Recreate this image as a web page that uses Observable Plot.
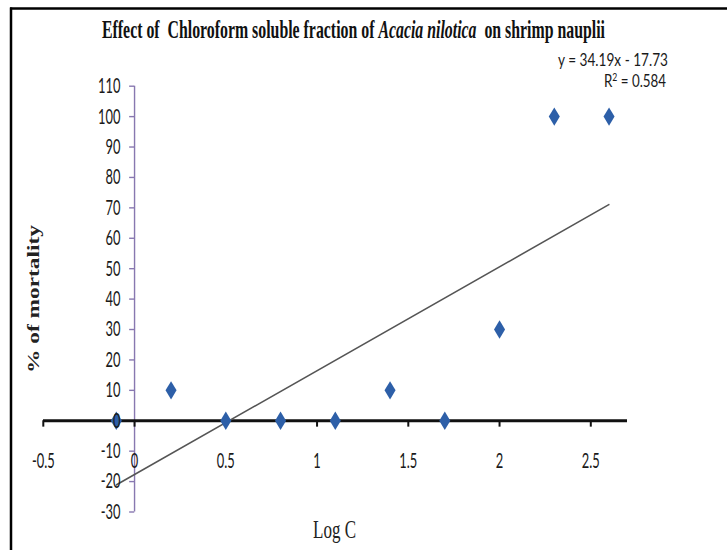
<!DOCTYPE html>
<html>
<head>
<meta charset="utf-8">
<script src="https://cdn.jsdelivr.net/npm/d3@7"></script>
<script src="https://cdn.jsdelivr.net/npm/@observablehq/plot@0.6"></script>
<style>
  html, body { margin: 0; padding: 0; background: #fff; }
  #chart { width: 727px; height: 550px; overflow: hidden; }
</style>
</head>
<body>
<div id="chart"></div>
<script>
// ---- data ----
const logC = [-0.1, 0.2, 0.5, 0.8, 1.1, 1.4, 1.7, 2.0, 2.3, 2.6];
const mortality = [0, 10, 0, 0, 0, 10, 0, 30, 100, 100];
const xTicks = [-0.5, 0, 0.5, 1, 1.5, 2, 2.5];
const xTickLabels = ["-0.5", "0", "0.5", "1", "1.5", "2", "2.5"];
const yTicks = [-30, -20, -10, 0, 10, 20, 30, 40, 50, 60, 70, 80, 90, 100, 110];
const yTickLabels = ["-30", "-20", "-10", "0", "10", "20", "30", "40", "50", "60", "70", "80", "90", "100", "110"];
const equation = "y = 34.19x - 17.73";
const r2Label = "0.584";
const titleParts = ["Effect of  Chloroform soluble fraction of ", "Acacia nilotica", "  on shrimp nauplii"];

const points = logC.map((x, i) => ({x, y: mortality[i]}));
const xt = xTicks.map((v, i) => ({v, t: xTickLabels[i]}));
const yt = yTicks.map((v, i) => ({v, t: yTickLabels[i]}));

// horizontal squeeze of the reference picture
const S = 0.6;
const W = 727 / S;

const purple = "#8878b0";
const blue = "#2d5fa8";

const svg = Plot.plot({
  width: W,
  height: 550,
  marginLeft: 43 / S,
  marginRight: W - 627 / S,
  marginTop: 85.7,
  marginBottom: 550 - 511.5,
  style: {background: "white", fontFamily: "Lato, 'Open Sans', sans-serif"},
  x: {domain: [-0.5, 2.7], axis: null},
  y: {domain: [-30, 110], axis: null},
  marks: [
    Plot.ruleX([0], {stroke: purple, strokeWidth: 1.4 / S}),
    Plot.ruleY(yt, {y: "v", x1: 0, x2: -0.028, stroke: purple, strokeWidth: 1.4}),
    Plot.ruleY([0], {stroke: "#111", strokeWidth: 3}),
    Plot.ruleX(xt, {x: "v", y1: 0, y2: -2.1, stroke: "#111", strokeWidth: 2 / S}),
    Plot.linearRegressionY(points, {x: "x", y: "y", ci: 0, stroke: "#555", strokeWidth: 1.7}),
    Plot.dot(points, {x: "x", y: "y", symbol: "diamond2", r: 8.3, fill: blue, stroke: "none"}),
    Plot.text(yt, {x: 0, y: "v", text: "t", dx: -23.5, textAnchor: "end", fontSize: 21.5, fill: "#1a1a1a", fontFamily: "Lato"}),
    Plot.text(xt, {x: "v", y: 0, text: "t", dy: 40, textAnchor: "middle", fontSize: 21.5, fill: "#1a1a1a", fontFamily: "Lato"})
  ]
});

svg.setAttribute("width", 727);
svg.setAttribute("height", 550);
svg.setAttribute("preserveAspectRatio", "none");
svg.style.width = "727px";
svg.style.height = "550px";
svg.style.maxWidth = "none";
document.getElementById("chart").appendChild(svg);

const g = d3.select(svg).append("g");

g.append("line").attr("x1", 11 / S).attr("x2", 11 / S).attr("y1", 7.5).attr("y2", 550)
  .attr("stroke", "#000").attr("stroke-width", 2.5 / S);
g.append("line").attr("x1", 10 / S).attr("x2", W).attr("y1", 8.5).attr("y2", 8.5)
  .attr("stroke", "#000").attr("stroke-width", 2.5);

const title = g.append("text")
  .attr("x", (102 + 605) / 2 / S).attr("y", 38)
  .attr("text-anchor", "middle")
  .attr("font-family", "'Liberation Serif', 'DejaVu Serif', serif")
  .attr("font-weight", "bold").attr("font-size", 25).attr("fill", "#111")
  .attr("textLength", (605 - 102) / S).attr("lengthAdjust", "spacingAndGlyphs")
  .style("white-space", "pre");
title.append("tspan").text(titleParts[0]);
title.append("tspan").attr("font-style", "italic").text(titleParts[1]);
title.append("tspan").text(titleParts[2]);

g.append("text").attr("x", 613 / S).attr("y", 66)
  .attr("font-family", "Lato, sans-serif").attr("font-size", 17).attr("fill", "#1a1a1a")
  .attr("textLength", (723 - 613) / S).attr("lengthAdjust", "spacingAndGlyphs")
  .text(equation);
const r2 = g.append("text").attr("x", 635 / S).attr("y", 87.5)
  .attr("font-family", "Lato, sans-serif").attr("font-size", 17).attr("fill", "#1a1a1a")
  .attr("textLength", (697 - 635) / S).attr("lengthAdjust", "spacingAndGlyphs");
r2.append("tspan").text("R");
r2.append("tspan").attr("font-size", 11).attr("dy", -6).text("2");
r2.append("tspan").attr("dy", 6).text(" = " + r2Label);

g.append("text")
  .attr("transform", `translate(${39 / S},299) rotate(-90)`)
  .attr("text-anchor", "middle")
  .attr("font-family", "'Liberation Serif', serif").attr("font-weight", "bold")
  .attr("font-size", 28).attr("fill", "#222")
  .attr("textLength", 148).attr("lengthAdjust", "spacingAndGlyphs")
  .text("% of mortality");

g.append("text").attr("x", (313 + 356) / 2 / S).attr("y", 538)
  .attr("text-anchor", "middle")
  .attr("font-family", "'Liberation Serif', serif")
  .attr("font-size", 26).attr("fill", "#222")
  .attr("textLength", (356 - 313) / S).attr("lengthAdjust", "spacingAndGlyphs")
  .text("Log C");
</script>
</body>
</html>
